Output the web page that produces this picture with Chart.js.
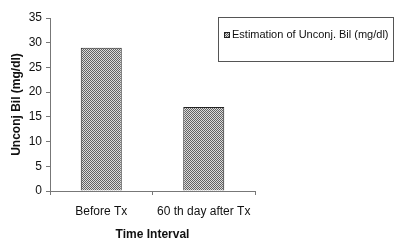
<!DOCTYPE html>
<html>
<head>
<meta charset="utf-8">
<script src="https://cdn.jsdelivr.net/npm/chart.js@4.4.1/dist/chart.umd.min.js"></script>
<style>
html,body{margin:0;padding:0;background:#fff;}
#wrap{width:394px;height:242px;position:relative;}
</style>
</head>
<body>
<div id="wrap"><canvas id="c" width="394" height="242"></canvas></div>
<script>
const categories = ["Before Tx", "60 th day after Tx"];
const seriesLabel = "Estimation of Unconj. Bil (mg/dl)";
const unconjBil = [29, 17];
const yTitle = "Unconj Bil (mg/dl)";
const xTitle = "Time Interval";

function makePattern(){
  const p = document.createElement('canvas');
  p.width = 2; p.height = 2;
  const g = p.getContext('2d');
  g.fillStyle = '#dcdcdc'; g.fillRect(0,0,2,2);
  g.fillStyle = '#626262'; g.fillRect(0,0,1,1); g.fillRect(1,1,1,1);
  return g.createPattern(p, 'repeat');
}
const ctx = document.getElementById('c').getContext('2d');
const pattern = makePattern();

const boxLegend = {
  id: 'boxLegend',
  afterDraw(chart){
    const c = chart.ctx;
    c.save();
    c.strokeStyle = '#555';
    c.lineWidth = 1;
    c.strokeRect(218.5, 17.5, 175, 44);
    c.fillStyle = pattern;
    c.fillRect(224, 32, 6, 6);
    c.strokeStyle = '#222';
    c.strokeRect(224.5, 32.5, 5, 5);
    c.fillStyle = '#111';
    c.font = '11px "Liberation Sans", Arial, sans-serif';
    c.textBaseline = 'middle';
    c.textAlign = 'left';
    c.fillText(chart.data.datasets[0].label, 232, 35);
    c.restore();
  }
};

new Chart(ctx, {
  type: 'bar',
  data: {
    labels: categories,
    datasets: [{
      label: seriesLabel,
      data: unconjBil,
      backgroundColor: pattern,
      borderColor: '#222',
      borderWidth: 1,
      categoryPercentage: 1,
      barPercentage: 0.4
    }]
  },
  options: {
    responsive: false,
    animation: false,
    devicePixelRatio: 1,
    layout: { padding: { top: 18, right: 139, left: 9, bottom: 0 } },
    plugins: { legend: { display: false }, tooltip: { enabled: false } },
    scales: {
      x: {
        afterFit(s){ s.height = 51; },
        grid: { display: true, drawOnChartArea: false, drawTicks: true, tickLength: 4, color: '#777', offset: true },
        border: { display: true, color: '#777' },
        ticks: { color: '#111', font: { family: '"Liberation Sans", Arial, sans-serif', size: 12 }, padding: 9, maxRotation: 0 },
        title: { display: true, text: xTitle, color: '#111', font: { family: '"Liberation Sans", Arial, sans-serif', size: 12, weight: 'bold' }, padding: { top: 2, bottom: 0 } }
      },
      y: {
        min: 0, max: 35,
        afterFit(s){ s.width = 41; },
        grid: { display: true, drawOnChartArea: false, drawTicks: true, tickLength: 4, color: '#777' },
        border: { display: true, color: '#777' },
        ticks: { stepSize: 5, color: '#111', font: { family: '"Liberation Sans", Arial, sans-serif', size: 12 }, padding: 4 },
        title: { display: true, text: yTitle, color: '#111', font: { family: '"Liberation Sans", Arial, sans-serif', size: 12, weight: 'bold' }, padding: 0 }
      }
    }
  },
  plugins: [boxLegend]
});
</script>
</body>
</html>
